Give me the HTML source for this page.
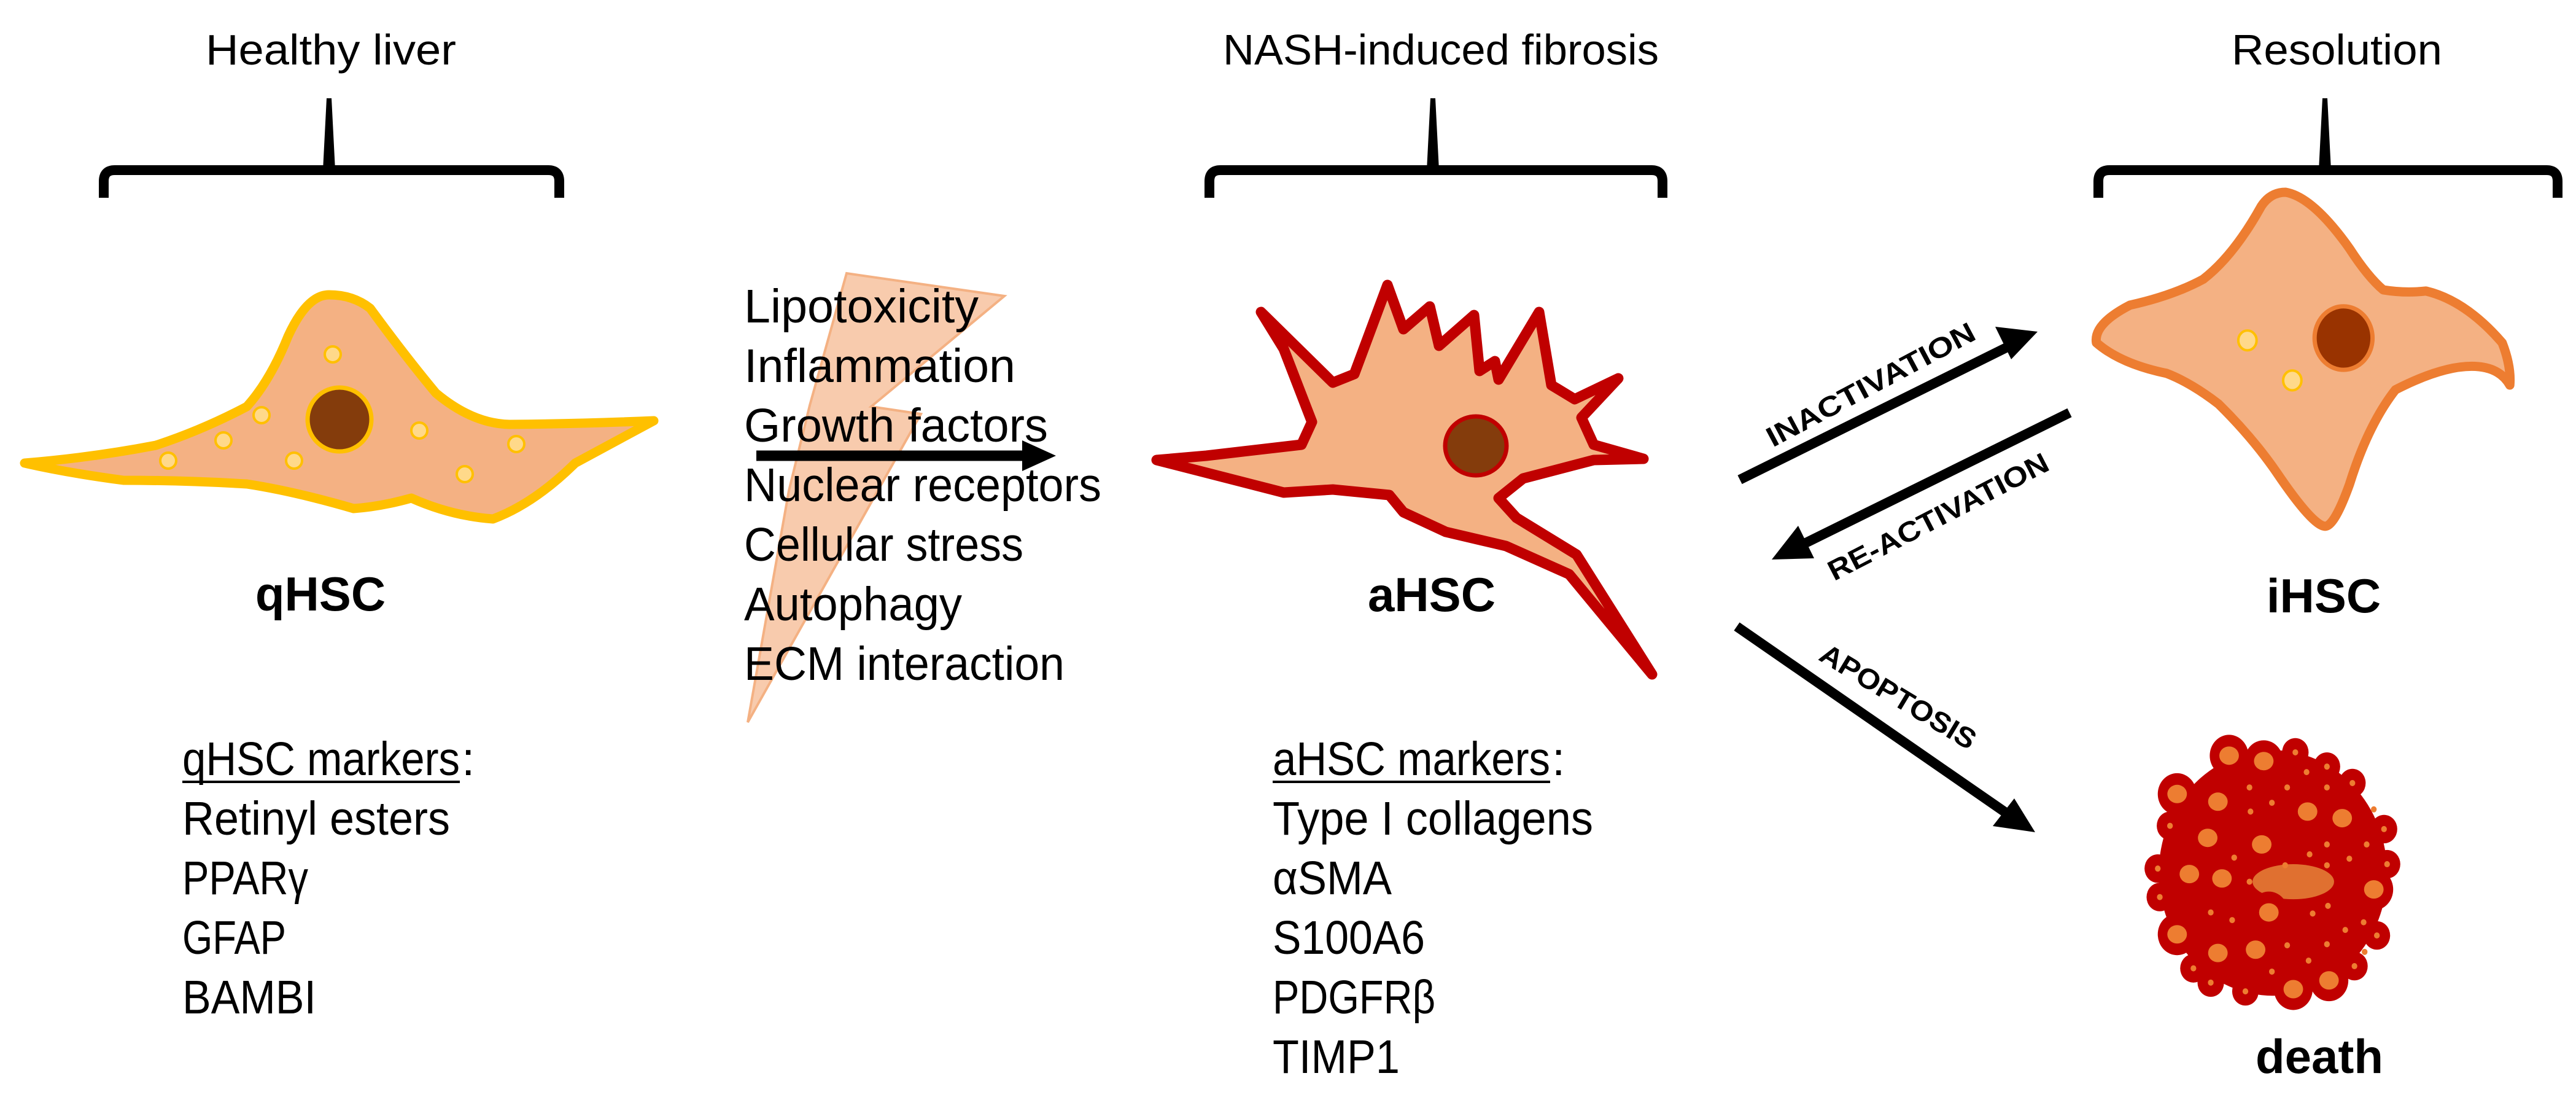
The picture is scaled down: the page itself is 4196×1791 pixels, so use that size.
<!DOCTYPE html>
<html><head><meta charset="utf-8"><style>
html,body{margin:0;padding:0;background:#fff;}
svg{display:block;}
text{font-family:"Liberation Sans",sans-serif;fill:#000;}
</style></head><body>
<svg width="4196" height="1791" viewBox="0 0 4196 1791" xmlns="http://www.w3.org/2000/svg">
<text x="335" y="105" font-size="70" textLength="408" lengthAdjust="spacingAndGlyphs">Healthy liver</text>
<text x="1992" y="105" font-size="70" textLength="710" lengthAdjust="spacingAndGlyphs">NASH-induced fibrosis</text>
<text x="3635" y="105" font-size="70" textLength="343" lengthAdjust="spacingAndGlyphs">Resolution</text>

<g fill="none" stroke="#000" stroke-width="16" stroke-linecap="butt">
<path d="M169 322 L169 295 Q169 277 187 277 L893 277 Q911 277 911 295 L911 322"/>
<path d="M1970 322 L1970 295 Q1970 277 1988 277 L2690 277 Q2708 277 2708 295 L2708 322"/>
<path d="M3418 322 L3418 295 Q3418 277 3436 277 L4148 277 Q4166 277 4166 295 L4166 322"/>
</g>
<polygon points="532,160 540,160 546,277 526,277" fill="#000"/>
<polygon points="2330,160 2338,160 2344,277 2324,277" fill="#000"/>
<polygon points="3783,160 3791,160 3797,277 3777,277" fill="#000"/>

<path d="M40,754 Q150,745 254,725 Q330,700 402,662 Q440,620 469,548 Q500,480 536,480 Q575,480 603,502 Q660,580 710,640 Q770,690 830,691 Q950,690 1065,685 Q1000,720 937,754 Q870,820 803,845 Q735,840 670,811 Q620,825 576,828 Q480,800 402,788 Q300,782 201,782 Q110,770 40,754 Z" fill="#f4b183" stroke="#ffc000" stroke-width="15" stroke-linejoin="round"/>
<circle cx="553" cy="683" r="52" fill="#843c0c" stroke="#ffc000" stroke-width="7"/>
<g fill="#ffd98a" stroke="#ffc000" stroke-width="4">
<circle cx="542" cy="577" r="13"/><circle cx="426" cy="676" r="13"/><circle cx="364" cy="717" r="13"/>
<circle cx="274" cy="750" r="13"/><circle cx="479" cy="750" r="13"/><circle cx="683" cy="701" r="13"/>
<circle cx="841" cy="723" r="13"/><circle cx="757" cy="772" r="13"/>
</g>
<text x="522" y="994" font-size="78" font-weight="bold" text-anchor="middle">qHSC</text>

<polygon points="1379,445 1636,482 1419,662 1500,674 1218,1176 1285,799 1319,660" fill="#f8cbad" stroke="#f4b183" stroke-width="4"/>

<g font-size="77">
<text x="1212" y="525" textLength="382" lengthAdjust="spacingAndGlyphs">Lipotoxicity</text>
<text x="1212" y="622" textLength="442" lengthAdjust="spacingAndGlyphs">Inflammation</text>
<text x="1212" y="719" textLength="495" lengthAdjust="spacingAndGlyphs">Growth factors</text>
<text x="1212" y="816" textLength="582" lengthAdjust="spacingAndGlyphs">Nuclear receptors</text>
<text x="1212" y="913" textLength="455" lengthAdjust="spacingAndGlyphs">Cellular stress</text>
<text x="1212" y="1010" textLength="355" lengthAdjust="spacingAndGlyphs">Autophagy</text>
<text x="1212" y="1107" textLength="522" lengthAdjust="spacingAndGlyphs">ECM interaction</text>
</g>
<line x1="1232" y1="742" x2="1675" y2="742" stroke="#000" stroke-width="17"/>
<polygon points="1665,717 1720,742 1665,767" fill="#000"/>

<path d="M1884,749 L1965,742 L2120,724 L2137,687 L2091,568 L2054,508 L2171,623 L2206,609 L2260,464 L2286,536 L2329,499 L2344,563 L2401,513 L2410,604 L2435,588 L2441,618 L2507,508 L2527,627 L2565,650 L2636,616 L2576,680 L2596,724 L2677,747 L2596,749 L2481,779 L2441,811 L2470,843 L2568,903 L2691,1098 L2556,935 L2453,889 L2355,866 L2286,834 L2263,806 L2171,797 L2091,802 Z" fill="#f4b183" stroke="#c00000" stroke-width="17" stroke-linejoin="round"/>
<ellipse cx="2404" cy="726" rx="50" ry="48" fill="#843c0c" stroke="#c00000" stroke-width="7"/>
<text x="2332" y="995" font-size="78" font-weight="bold" text-anchor="middle">aHSC</text>

<g transform="translate(3380,290) scale(0.497,0.383)">
<path d="M690,60 Q780,80 900,300 Q960,420 1010,475 Q1080,490 1150,480 Q1280,520 1400,700 Q1430,800 1425,880 Q1390,800 1300,800 Q1200,800 1050,900 Q960,1050 900,1300 Q850,1480 820,1480 Q780,1480 660,1250 Q580,1100 470,960 Q380,870 300,830 Q150,790 70,700 Q60,620 180,540 Q320,500 420,430 Q520,330 610,120 Q640,60 690,60 Z" fill="#f4b183" stroke="#ed7d31" stroke-width="15" vector-effect="non-scaling-stroke" stroke-linejoin="round"/>
<ellipse cx="880" cy="680" rx="95" ry="135" fill="#993300" stroke="#ed7d31" stroke-width="7" vector-effect="non-scaling-stroke"/>
<ellipse cx="565" cy="690" rx="30" ry="42" fill="#ffd98a" stroke="#ffc000" stroke-width="4" vector-effect="non-scaling-stroke"/>
<ellipse cx="712" cy="860" rx="30" ry="42" fill="#ffd98a" stroke="#ffc000" stroke-width="4" vector-effect="non-scaling-stroke"/>
</g>
<text x="3785" y="997" font-size="78" font-weight="bold" text-anchor="middle">iHSC</text>

<g stroke="#000" stroke-width="16">
<line x1="2834" y1="781" x2="3280" y2="560"/>
<line x1="3371" y1="672" x2="2925" y2="892"/>
<line x1="2829" y1="1020" x2="3280" y2="1332"/>
</g>
<polygon points="3319,540 3250,532 3276,585" fill="#000"/>
<polygon points="2886,911 2929,856 2955,909" fill="#000"/>
<polygon points="3315,1355 3246,1345 3281,1300" fill="#000"/>
<g font-size="46" font-weight="bold">
<text transform="translate(3047,626) rotate(-28)" text-anchor="middle" dominant-baseline="central" textLength="378" lengthAdjust="spacingAndGlyphs">INACTIVATION</text>
<text transform="translate(3157,841) rotate(-27.3)" text-anchor="middle" dominant-baseline="central" textLength="398" lengthAdjust="spacingAndGlyphs">RE-ACTIVATION</text>
<text transform="translate(3092,1134) rotate(31)" text-anchor="middle" dominant-baseline="central" textLength="288" lengthAdjust="spacingAndGlyphs">APOPTOSIS</text>
</g>

<g transform="translate(3450,1150) scale(0.332,0.357)">
<ellipse cx="760" cy="760" rx="560" ry="560" fill="#c00000"/>
<ellipse cx="860" cy="800" rx="200" ry="80" fill="#e07030"/>
<g fill="#c00000">
<circle cx="545" cy="225" r="95"/><circle cx="715" cy="250" r="95"/><circle cx="290" cy="400" r="95"/><circle cx="490" cy="435" r="95"/><circle cx="930" cy="480" r="95"/><circle cx="1100" cy="510" r="95"/><circle cx="440" cy="600" r="95"/><circle cx="705" cy="630" r="95"/><circle cx="350" cy="765" r="95"/><circle cx="510" cy="785" r="95"/><circle cx="1255" cy="835" r="95"/><circle cx="740" cy="940" r="95"/><circle cx="290" cy="1040" r="95"/><circle cx="490" cy="1125" r="95"/><circle cx="675" cy="1110" r="95"/><circle cx="860" cy="1290" r="95"/><circle cx="1035" cy="1250" r="95"/>
<circle cx="870" cy="210" r="65"/><circle cx="1025" cy="275" r="65"/><circle cx="1150" cy="350" r="65"/><circle cx="255" cy="545" r="65"/><circle cx="1305" cy="560" r="65"/><circle cx="195" cy="740" r="65"/><circle cx="205" cy="870" r="65"/><circle cx="1320" cy="720" r="65"/><circle cx="1270" cy="1045" r="65"/><circle cx="370" cy="1195" r="65"/><circle cx="455" cy="1260" r="65"/><circle cx="625" cy="1300" r="65"/><circle cx="1160" cy="1185" r="65"/>
<circle cx="1025" cy="630" r="65"/><circle cx="1135" cy="695" r="65"/><circle cx="1025" cy="1085" r="65"/><circle cx="935" cy="1160" r="65"/><circle cx="455" cy="940" r="65"/><circle cx="1205" cy="985" r="65"/>
</g>
<g fill="#ed7d31">
<ellipse cx="545" cy="225" rx="48" ry="42"/><ellipse cx="715" cy="250" rx="48" ry="42"/><ellipse cx="290" cy="400" rx="48" ry="42"/><ellipse cx="490" cy="435" rx="48" ry="42"/><ellipse cx="930" cy="480" rx="48" ry="42"/><ellipse cx="1100" cy="510" rx="48" ry="42"/><ellipse cx="440" cy="600" rx="48" ry="42"/><ellipse cx="705" cy="630" rx="48" ry="42"/><ellipse cx="350" cy="765" rx="48" ry="42"/><ellipse cx="510" cy="785" rx="48" ry="42"/><ellipse cx="1255" cy="835" rx="48" ry="42"/><ellipse cx="740" cy="940" rx="48" ry="42"/><ellipse cx="290" cy="1040" rx="48" ry="42"/><ellipse cx="490" cy="1125" rx="48" ry="42"/><ellipse cx="675" cy="1110" rx="48" ry="42"/><ellipse cx="860" cy="1290" rx="48" ry="42"/><ellipse cx="1035" cy="1250" rx="48" ry="42"/>
<circle cx="870" cy="210" r="14"/><circle cx="1025" cy="275" r="14"/><circle cx="925" cy="300" r="14"/><circle cx="1150" cy="350" r="14"/><circle cx="645" cy="370" r="14"/><circle cx="830" cy="370" r="14"/><circle cx="1025" cy="370" r="14"/><circle cx="755" cy="440" r="14"/><circle cx="650" cy="480" r="14"/><circle cx="1255" cy="470" r="14"/><circle cx="255" cy="545" r="14"/><circle cx="1305" cy="560" r="14"/><circle cx="1025" cy="630" r="14"/><circle cx="1220" cy="630" r="14"/><circle cx="570" cy="690" r="14"/><circle cx="940" cy="675" r="14"/><circle cx="1135" cy="695" r="14"/><circle cx="195" cy="740" r="14"/><circle cx="820" cy="725" r="14"/><circle cx="1025" cy="725" r="14"/><circle cx="1320" cy="720" r="14"/><circle cx="645" cy="800" r="14"/><circle cx="205" cy="870" r="14"/><circle cx="1030" cy="910" r="14"/><circle cx="455" cy="940" r="14"/><circle cx="955" cy="945" r="14"/><circle cx="560" cy="975" r="14"/><circle cx="1205" cy="985" r="14"/><circle cx="1270" cy="1045" r="14"/><circle cx="1115" cy="1020" r="14"/><circle cx="830" cy="1090" r="14"/><circle cx="1025" cy="1085" r="14"/><circle cx="935" cy="1160" r="14"/><circle cx="1210" cy="1120" r="14"/><circle cx="370" cy="1195" r="14"/><circle cx="455" cy="1260" r="14"/><circle cx="625" cy="1300" r="14"/><circle cx="755" cy="1210" r="14"/><circle cx="1160" cy="1185" r="14"/>
</g>
</g>
<text x="3778" y="1747" font-size="78" font-weight="bold" text-anchor="middle">death</text>

<g font-size="77">
<text x="297" y="1262" textLength="452" lengthAdjust="spacingAndGlyphs">qHSC markers</text>
<text x="752" y="1262">:</text>
<text x="297" y="1359" textLength="436" lengthAdjust="spacingAndGlyphs">Retinyl esters</text>
<text x="297" y="1456" textLength="205" lengthAdjust="spacingAndGlyphs">PPARγ</text>
<text x="297" y="1553" textLength="169" lengthAdjust="spacingAndGlyphs">GFAP</text>
<text x="297" y="1650" textLength="218" lengthAdjust="spacingAndGlyphs">BAMBI</text>
<text x="2073" y="1262" textLength="452" lengthAdjust="spacingAndGlyphs">aHSC markers</text>
<text x="2528" y="1262">:</text>
<text x="2073" y="1359" textLength="522" lengthAdjust="spacingAndGlyphs">Type I collagens</text>
<text x="2073" y="1456" textLength="194" lengthAdjust="spacingAndGlyphs">αSMA</text>
<text x="2073" y="1553" textLength="248" lengthAdjust="spacingAndGlyphs">S100A6</text>
<text x="2073" y="1650" textLength="265" lengthAdjust="spacingAndGlyphs">PDGFRβ</text>
<text x="2073" y="1747" textLength="207" lengthAdjust="spacingAndGlyphs">TIMP1</text>
</g>
<line x1="297" y1="1273" x2="749" y2="1273" stroke="#000" stroke-width="4"/>
<line x1="2073" y1="1273" x2="2525" y2="1273" stroke="#000" stroke-width="4"/>
</svg>
</body></html>
